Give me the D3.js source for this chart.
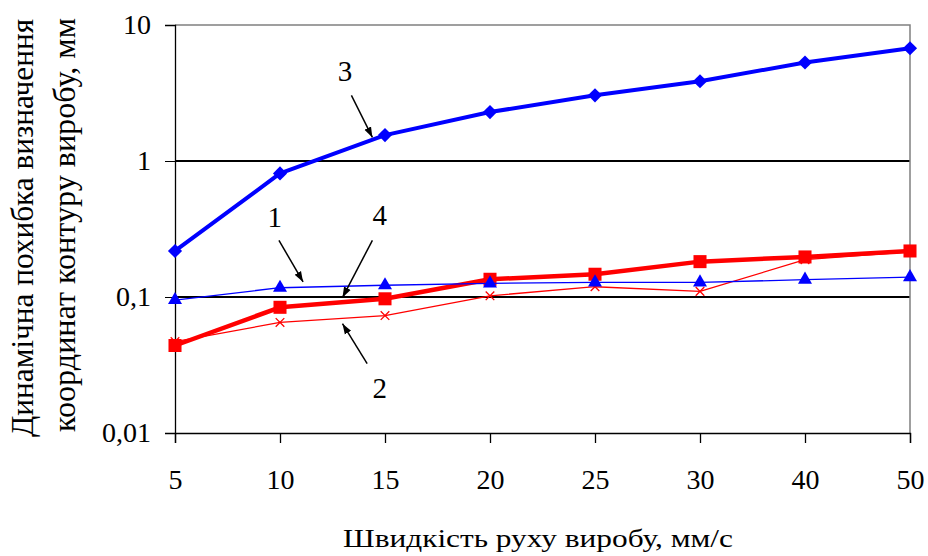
<!DOCTYPE html>
<html>
<head>
<meta charset="utf-8">
<script src="https://cdn.jsdelivr.net/npm/d3@7"></script>
<style>
  body { margin: 0; background: #fff; }
</style>
</head>
<body>
<div id="chart"></div>
<script>
// speed categories, mm/s
const speeds = [5, 10, 15, 20, 25, 30, 40, 50];

// series values (dynamic error, mm)
const series1 = [0.095, 0.117, 0.122, 0.126, 0.128, 0.128, 0.134, 0.140];
const series2 = [0.047, 0.065, 0.073, 0.102, 0.119, 0.110, 0.188, 0.215];
const series3 = [0.218, 0.81, 1.55, 2.29, 3.04, 3.86, 5.3, 6.75];
const series4 = [0.044, 0.084, 0.097, 0.135, 0.147, 0.182, 0.197, 0.218];

const yTicks = [0.01, 0.1, 1, 10];
const yTickLabels = ["0,01", "0,1", "1", "10"];

// callouts: label, arrow tail and tip, label position (category index, value)
const callouts = [
  { label: "3", tail: [1.68, 3.04], tip: [1.88, 1.49], text: [1.62, 4.6] },
  { label: "1", tail: [0.99, 0.261], tip: [1.22, 0.129], text: [0.95, 0.39] },
  { label: "4", tail: [1.88, 0.261], tip: [1.595, 0.099], text: [1.95, 0.40] },
  { label: "2", tail: [1.83, 0.0324], tip: [1.595, 0.0637], text: [1.95, 0.0213] }
];

const FONT = '"Liberation Serif", "Times New Roman", serif';
const width = 928, height = 556;
const margin = { top: 25, right: 18, bottom: 123, left: 175 };

const svg = d3.select("#chart").append("svg")
  .attr("width", width)
  .attr("height", height);

const x = d3.scalePoint()
  .domain(speeds)
  .range([margin.left, width - margin.right]);

// same span, by index, for the callout arrows
const xi = d3.scaleLinear()
  .domain([0, speeds.length - 1])
  .range([margin.left, width - margin.right]);

const y = d3.scaleLog()
  .domain([0.01, 10])
  .range([height - margin.bottom, margin.top]);

// gridlines at 0.1 and 1
svg.append("g")
  .attr("shape-rendering", "crispEdges")
  .selectAll("line")
  .data([0.1, 1])
  .join("line")
  .attr("x1", margin.left).attr("x2", width - margin.right)
  .attr("y1", d => y(d)).attr("y2", d => y(d))
  .attr("stroke", "#000").attr("stroke-width", 1.2);

// gray frame top and right
svg.append("path")
  .attr("d", `M${margin.left},${y(10)}H${width - margin.right}V${y(0.01)}`)
  .attr("fill", "none")
  .attr("stroke", "#808080")
  .attr("stroke-width", 1.5);

// axes
const yAxis = d3.axisLeft(y)
  .tickValues(yTicks)
  .tickFormat((d, i) => yTickLabels[i])
  .tickSize(10)
  .tickPadding(14);

const gy = svg.append("g")
  .attr("transform", `translate(${margin.left},0)`)
  .call(yAxis);
gy.select(".domain").attr("stroke", "#000").attr("stroke-width", 1.3);
gy.selectAll(".tick line").attr("stroke", "#000").attr("stroke-width", 1.3)
  .attr("shape-rendering", "crispEdges");
gy.selectAll(".tick text")
  .style("font-family", FONT)
  .style("font-size", "28px");

const xAxis = d3.axisBottom(x)
  .tickSize(10)
  .tickPadding(26);

const gx = svg.append("g")
  .attr("transform", `translate(0,${height - margin.bottom})`)
  .call(xAxis);
gx.select(".domain").attr("stroke", "#000").attr("stroke-width", 1.3);
gx.selectAll(".tick line").attr("stroke", "#000").attr("stroke-width", 1.3);
gx.selectAll(".tick text")
  .style("font-family", FONT)
  .style("font-size", "28px");

// series, drawn bottom to top
const lineGen = d3.line()
  .x((d, i) => x(speeds[i]))
  .y(d => y(d));

function drawSeries(values, color, lineWidth, symbol, size, filled, rotate) {
  const g = svg.append("g");
  g.append("path")
    .datum(values)
    .attr("d", lineGen)
    .attr("fill", "none")
    .attr("stroke", color)
    .attr("stroke-width", lineWidth)
    .attr("stroke-linejoin", "round");
  g.selectAll("path.mark")
    .data(values)
    .join("path")
    .attr("class", "mark")
    .attr("d", d3.symbol(symbol, size))
    .attr("transform", (d, i) => `translate(${x(speeds[i])},${y(d)}) rotate(${rotate})`)
    .attr("fill", filled ? color : "none")
    .attr("stroke", color)
    .attr("stroke-width", filled ? 0 : 1.3);
}

drawSeries(series2, "#ff0000", 1.3, d3.symbolX, 50, false, 0);
drawSeries(series4, "#ff0000", 4.5, d3.symbolSquare, 170, true, 0);
drawSeries(series1, "#0000ff", 1.3, d3.symbolTriangle, 85, true, 0);
drawSeries(series3, "#0000ff", 4, d3.symbolSquare, 100, true, 45);

// callout arrows
svg.append("defs").append("marker")
  .attr("id", "arrow")
  .attr("viewBox", "0 0 10 10")
  .attr("refX", 10).attr("refY", 5)
  .attr("markerWidth", 7).attr("markerHeight", 7)
  .attr("markerUnits", "strokeWidth")
  .attr("orient", "auto")
  .append("path")
  .attr("d", "M0,1.5L10,5L0,8.5Z")
  .attr("fill", "#000");

const notes = svg.append("g");
notes.selectAll("line")
  .data(callouts)
  .join("line")
  .attr("x1", d => xi(d.tail[0])).attr("y1", d => y(d.tail[1]))
  .attr("x2", d => xi(d.tip[0])).attr("y2", d => y(d.tip[1]))
  .attr("stroke", "#000")
  .attr("stroke-width", 1.5)
  .attr("marker-end", "url(#arrow)");
notes.selectAll("text")
  .data(callouts)
  .join("text")
  .attr("x", d => xi(d.text[0]))
  .attr("y", d => y(d.text[1]))
  .attr("dy", "0.35em")
  .attr("text-anchor", "middle")
  .style("font-family", FONT)
  .style("font-size", "29px")
  .text(d => d.label);

// axis titles
svg.append("text")
  .attr("x", 538)
  .attr("y", 547)
  .attr("text-anchor", "middle")
  .style("font-family", FONT)
  .style("font-size", "25px")
  .attr("textLength", 390)
  .attr("lengthAdjust", "spacingAndGlyphs")
  .text("Швидкість руху виробу, мм/с");

const yTitle = svg.append("g")
  .attr("transform", "rotate(-90)")
  .attr("text-anchor", "middle");
yTitle.append("text")
  .attr("x", -228).attr("y", 33)
  .style("font-family", FONT)
  .style("font-size", "31px")
  .attr("textLength", 418)
  .attr("lengthAdjust", "spacingAndGlyphs")
  .text("Динамічна похибка визначення");
yTitle.append("text")
  .attr("x", -225).attr("y", 75)
  .style("font-family", FONT)
  .style("font-size", "31px")
  .attr("textLength", 414)
  .attr("lengthAdjust", "spacingAndGlyphs")
  .text("координат контуру виробу, мм");
</script>
</body>
</html>
